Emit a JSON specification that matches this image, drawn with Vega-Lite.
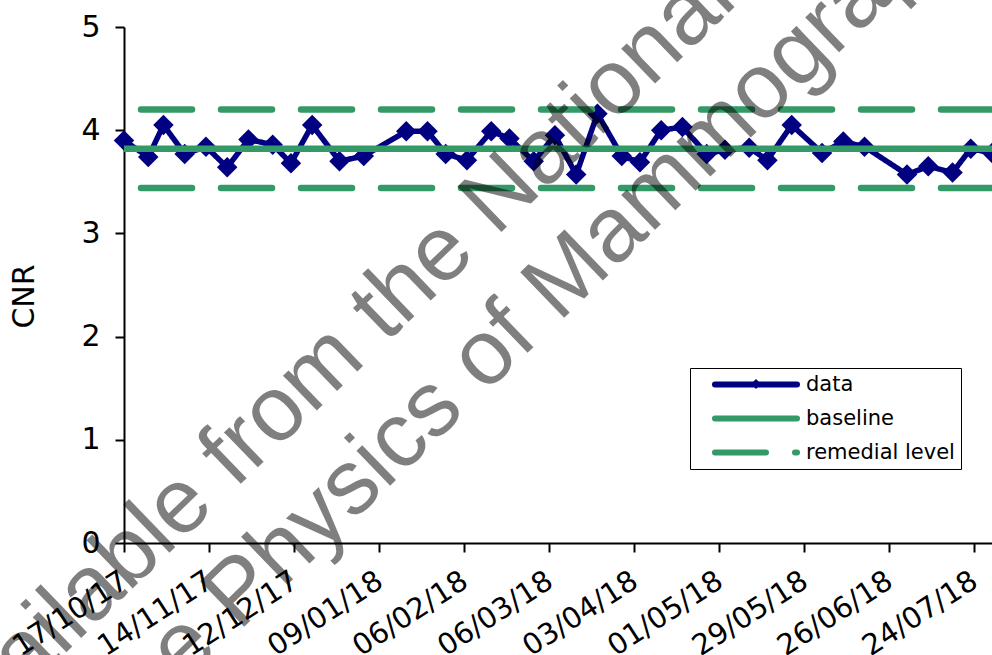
{
  "$schema": "https://vega.github.io/schema/vega-lite/v6.json",
  "autosize": {"type": "none"},
  "width": 868,
  "height": 516,
  "padding": {"left": 124, "top": 27, "right": 0, "bottom": 112},
  "background": "white",
  "config": {
    "view": {"stroke": null},
    "font": "DejaVu Sans",
    "axis": {
      "domainColor": "black", "domainWidth": 2,
      "tickColor": "black", "tickWidth": 2, "tickSize": 9,
      "grid": false, "labelColor": "black", "titleColor": "black",
      "labelFont": "DejaVu Sans", "titleFont": "DejaVu Sans", "titleFontWeight": "normal"
    }
  },
  "datasets": {
    "cnr": [
      {"date": "2017-10-17", "CNR": 3.90},
      {"date": "2017-10-25", "CNR": 3.74},
      {"date": "2017-10-30", "CNR": 4.05},
      {"date": "2017-11-06", "CNR": 3.77},
      {"date": "2017-11-13", "CNR": 3.84},
      {"date": "2017-11-20", "CNR": 3.64},
      {"date": "2017-11-27", "CNR": 3.91},
      {"date": "2017-12-05", "CNR": 3.86},
      {"date": "2017-12-11", "CNR": 3.68},
      {"date": "2017-12-18", "CNR": 4.05},
      {"date": "2017-12-27", "CNR": 3.70},
      {"date": "2018-01-04", "CNR": 3.75},
      {"date": "2018-01-18", "CNR": 3.99},
      {"date": "2018-01-25", "CNR": 3.99},
      {"date": "2018-01-31", "CNR": 3.77},
      {"date": "2018-02-07", "CNR": 3.71},
      {"date": "2018-02-15", "CNR": 3.99},
      {"date": "2018-02-21", "CNR": 3.92},
      {"date": "2018-03-01", "CNR": 3.70},
      {"date": "2018-03-08", "CNR": 3.95},
      {"date": "2018-03-15", "CNR": 3.57},
      {"date": "2018-03-22", "CNR": 4.16},
      {"date": "2018-03-30", "CNR": 3.75},
      {"date": "2018-04-05", "CNR": 3.69},
      {"date": "2018-04-12", "CNR": 4.00},
      {"date": "2018-04-19", "CNR": 4.03},
      {"date": "2018-04-27", "CNR": 3.77},
      {"date": "2018-05-03", "CNR": 3.81},
      {"date": "2018-05-11", "CNR": 3.83},
      {"date": "2018-05-17", "CNR": 3.71},
      {"date": "2018-05-25", "CNR": 4.05},
      {"date": "2018-06-04", "CNR": 3.78},
      {"date": "2018-06-11", "CNR": 3.89},
      {"date": "2018-06-18", "CNR": 3.84},
      {"date": "2018-07-02", "CNR": 3.57},
      {"date": "2018-07-09", "CNR": 3.65},
      {"date": "2018-07-17", "CNR": 3.59},
      {"date": "2018-07-23", "CNR": 3.82},
      {"date": "2018-07-30", "CNR": 3.78}
    ],
    "levels": [
      {"series": "baseline", "CNR": 3.82},
      {"series": "remedial level", "CNR": 4.20},
      {"series": "remedial level", "CNR": 3.44}
    ]
  },
  "layer": [
    {
      "data": {"name": "cnr"},
      "mark": {"type": "line", "strokeWidth": 5.5, "strokeJoin": "round"},
      "encoding": {
        "x": {
          "field": "date", "type": "temporal",
          "scale": {"type": "utc", "nice": false, "domain": [{"year": 2017, "month": 10, "date": 17, "utc": true}, {"year": 2018, "month": 7, "date": 30, "utc": true}]},
          "axis": {
            "title": null,
            "values": [
              {"year": 2017, "month": 10, "date": 17, "utc": true},
              {"year": 2017, "month": 11, "date": 14, "utc": true},
              {"year": 2017, "month": 12, "date": 12, "utc": true},
              {"year": 2018, "month": 1, "date": 9, "utc": true},
              {"year": 2018, "month": 2, "date": 6, "utc": true},
              {"year": 2018, "month": 3, "date": 6, "utc": true},
              {"year": 2018, "month": 4, "date": 3, "utc": true},
              {"year": 2018, "month": 5, "date": 1, "utc": true},
              {"year": 2018, "month": 5, "date": 29, "utc": true},
              {"year": 2018, "month": 6, "date": 26, "utc": true},
              {"year": 2018, "month": 7, "date": 24, "utc": true}
            ],
            "labelExpr": "utcFormat(datum.value, '%d/%m/%y')",
            "labelAngle": -33, "labelAlign": "right", "labelBaseline": "top",
            "labelFontSize": 29, "labelPadding": 14, "labelOffset": -7,
            "labelOverlap": false, "labelFlush": false, "labelBound": false
          }
        },
        "y": {
          "field": "CNR", "type": "quantitative",
          "scale": {"domain": [0, 5], "nice": false, "zero": false},
          "axis": {
            "values": [0, 1, 2, 3, 4, 5], "format": "d",
            "labelFontSize": 30, "labelPadding": 15,
            "title": "CNR", "titleFontSize": 30,
            "titleX": -100, "titleY": 269, "titleAngle": -90,
            "titleAlign": "center", "titleBaseline": "middle"
          }
        },
        "color": {
          "datum": "data", "type": "nominal", "title": null,
          "scale": {"domain": ["data", "baseline", "remedial level"], "range": ["#000080", "#339966", "#339966"]},
          "legend": {
            "title": "\u200b", "titleOrient": "right", "titlePadding": 25, "titleFontSize": 21,
            "orient": "none", "legendX": 566, "legendY": 341,
            "symbolType": "stroke", "symbolSize": 6724, "symbolStrokeWidth": 6,
            "clipHeight": 21, "rowPadding": 12, "padding": 6,
            "symbolOffset": 16, "labelOffset": 6,
            "labelFont": "DejaVu Sans", "labelFontSize": 21, "labelColor": "black",
            "labelLimit": 400,
            "strokeColor": "black", "fillColor": "white", "zindex": 1,
            "encode": {"symbols": {"update": {"strokeCap": {"value": "round"}}}}
          }
        },
        "strokeDash": {
          "datum": "data", "type": "nominal", "title": null,
          "scale": {"domain": ["data", "baseline", "remedial level"], "range": [[1, 0], [1, 0], [51, 29]]}
        }
      }
    },
    {
      "data": {"name": "cnr"},
      "mark": {"type": "point", "filled": true, "size": 420, "color": "#000080", "opacity": 1},
      "encoding": {
        "x": {"field": "date", "type": "temporal"},
        "y": {"field": "CNR", "type": "quantitative"},
        "shape": {
          "datum": "data point", "type": "nominal", "title": null,
          "scale": {"range": ["diamond"]},
          "legend": {
            "title": null, "orient": "none", "legendX": 627, "legendY": 352,
            "padding": 0, "clipHeight": 10, "symbolSize": 100, "symbolStrokeWidth": 0,
            "symbolOffset": 0, "labelFontSize": 1, "labelExpr": "''", "labelOffset": 0,
            "symbolFillColor": "#000080", "symbolStrokeColor": "#000080",
            "strokeColor": null, "fillColor": null, "zindex": 3
          }
        }
      }
    },
    {
      "data": {"name": "levels"},
      "mark": {"type": "rule", "strokeWidth": 6.5, "strokeCap": "round", "clip": true},
      "encoding": {
        "y": {"field": "CNR", "type": "quantitative"},
        "color": {"field": "series", "type": "nominal", "title": null},
        "strokeDash": {"field": "series", "type": "nominal", "title": null}
      }
    },
    {
      "data": {"values": [{}]},
      "mark": {"type": "text", "text": "Available from the National Coordinating Centre for", "font": "Liberation Sans", "fontSize": 92, "angle": -44, "align": "left", "baseline": "middle", "fill": "#000000", "fillOpacity": 0.5},
      "encoding": {
        "x": {"datum": {"year": 2017, "month": 8, "date": 14, "utc": true}, "type": "temporal"},
        "y": {"datum": -1.96, "type": "quantitative"}
      }
    },
    {
      "data": {"values": [{}]},
      "mark": {"type": "text", "text": "the Physics of Mammography", "font": "Liberation Sans", "fontSize": 92, "angle": -44, "align": "left", "baseline": "middle", "fill": "#000000", "fillOpacity": 0.5},
      "encoding": {
        "x": {"datum": {"year": 2017, "month": 10, "date": 12, "utc": true}, "type": "temporal"},
        "y": {"datum": -1.70, "type": "quantitative"}
      }
    }
  ]
}
